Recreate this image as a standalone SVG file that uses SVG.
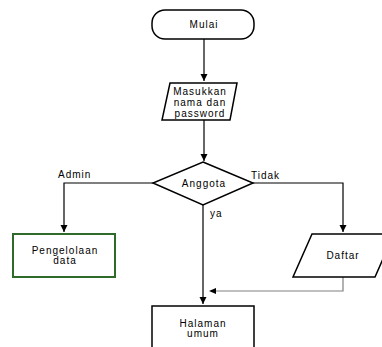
<svg xmlns="http://www.w3.org/2000/svg" width="382" height="347" viewBox="0 0 382 347">
<defs>
<marker id="ah" markerWidth="8" markerHeight="8" refX="7" refY="4" orient="auto" markerUnits="userSpaceOnUse">
<path d="M0,0.5 L7,4 L0,7.5 Z" fill="#000"/>
</marker>
<style>
.n{fill:#fff;stroke:#000;stroke-width:1.5}
.g{fill:#fff;stroke:#2f6a2a;stroke-width:2}
.t{font-family:"Liberation Sans",Arial,sans-serif;font-size:10px;letter-spacing:1px;fill:#000;text-anchor:middle}
.l{font-family:"Liberation Sans",Arial,sans-serif;font-size:10px;letter-spacing:1px;fill:#000}
.c{fill:none;stroke:#000;stroke-width:1.2}
.gr{fill:none;stroke:#808080;stroke-width:1.2}
</style>
</defs>
<rect width="382" height="347" fill="#fff"/>
<g id="connectors">
<path class="c" d="M204,39 V81" marker-end="url(#ah)"/>
<path class="c" d="M204,120 V161" marker-end="url(#ah)"/>
<path class="c" d="M153,183 H64 V232" marker-end="url(#ah)"/>
<path class="c" d="M253,183 H343 V232" marker-end="url(#ah)"/>
<path class="c" d="M203,205 V304" marker-end="url(#ah)"/>
<path class="gr" d="M343,277 V291 H212"/>
<path d="M209,291 L216,288 L216,294 Z" fill="#000"/>
</g>
<g id="mulai">
<rect class="n" x="152" y="10" width="102" height="29" rx="13"/>
<text class="t" x="204" y="28">Mulai</text>
</g>
<g id="input">
<polygon class="n" points="170,83 237,83 230,120 162,120"/>
<text class="t" x="200" y="95">Masukkan</text>
<text class="t" x="200" y="106">nama dan</text>
<text class="t" x="200" y="117">password</text>
</g>
<g id="anggota">
<polygon class="n" points="203,162 253,183 203,205 153,183"/>
<text class="t" x="204" y="187">Anggota</text>
</g>
<g id="labels">
<text class="l" x="58" y="178">Admin</text>
<text class="l" x="251" y="179">Tidak</text>
<text class="l" x="210" y="217">ya</text>
</g>
<g id="pengelolaan">
<rect class="g" x="13" y="234" width="102" height="43"/>
<text class="t" x="65" y="254">Pengelolaan</text>
<text class="t" x="65" y="264">data</text>
</g>
<g id="daftar">
<polygon class="n" points="312,234 394,234 375,277 293,277"/>
<text class="t" x="343" y="259">Daftar</text>
</g>
<g id="halaman">
<rect class="n" x="152" y="306" width="102" height="50"/>
<text class="t" x="203" y="327">Halaman</text>
<text class="t" x="203" y="337">umum</text>
</g>
</svg>
